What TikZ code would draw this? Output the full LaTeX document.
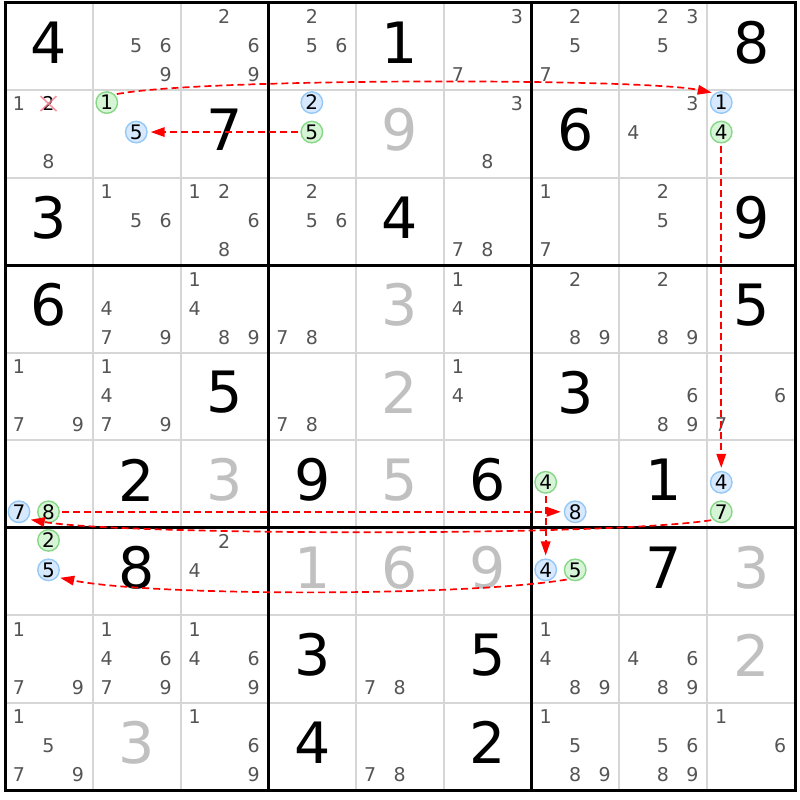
\documentclass[tikz,border=0pt]{standalone}
\usepackage{fontspec}
\setmainfont{DejaVu Sans}
\usetikzlibrary{arrows.meta}
\definecolor{candgray}{RGB}{85,85,85}
\definecolor{solvgray}{RGB}{192,192,192}
\definecolor{thingray}{RGB}{214,214,214}
\definecolor{bfill}{RGB}{214,233,255}
\definecolor{bline}{RGB}{150,200,245}
\definecolor{gfill}{RGB}{214,245,214}
\definecolor{gline}{RGB}{135,215,135}
\definecolor{xred}{RGB}{245,130,145}
\definecolor{linkred}{RGB}{255,0,0}
\tikzset{
  given/.style={font=\fontsize{57}{60}\selectfont, text=black, inner sep=0pt},
  solved/.style={given, text=solvgray},
  cand/.style={font=\fontsize{19}{22}\selectfont, text=candgray, inner sep=0pt},
  bc/.style={circle, draw=bline, fill=bfill, line width=1.4pt, minimum size=21.5pt, inner sep=0pt, font=\fontsize{20}{22}\selectfont, text=black},
  gc/.style={bc, draw=gline, fill=gfill},
  gridthin/.style={draw=thingray, line width=2pt},
  gridthick/.style={draw=black, line width=3pt},
  link/.style={draw=linkred, line width=1.7pt, dash pattern=on 7pt off 4pt, -{Triangle[length=14pt,width=9.5pt]}, shorten >=3pt, shorten <=2pt}
}
\begin{document}
\begin{tikzpicture}[x=1pt,y=-1pt]
\useasboundingbox (0,0) rectangle (800,800);
\fill[white] (0,0) rectangle (800,800);
% thin grid
\foreach \i in {1,2,4,5,7,8} {
  \draw[gridthin] ({5+87.78*\i},2.5) -- ({5+87.78*\i},790.5);
  \draw[gridthin] (5,{2.5+87.56*\i}) -- (795,{2.5+87.56*\i});
}
% thick grid
\foreach \i in {3,6} {
  \draw[gridthick] ({5+87.78*\i},2.5) -- ({5+87.78*\i},790.5);
  \draw[gridthick] (5,{2.5+87.56*\i}) -- (795,{2.5+87.56*\i});
}
\draw[gridthick] (5,2.5) rectangle (795,790.5);
% givens
\foreach \r/\c/\d in {1/1/4,1/5/1,1/9/8,2/3/7,2/7/6,3/1/3,3/5/4,3/9/9,4/1/6,4/9/5,5/3/5,5/7/3,6/2/2,6/4/9,6/6/6,6/8/1,7/2/8,7/8/7,8/4/3,8/6/5,9/4/4,9/6/2} {
  \node[given] (g\r\c) at ({5+87.78*(\c-0.5)},{2.5+87.56*(\r-0.5)-4}) {\d};
}
% solved (gray)
\foreach \r/\c/\d in {2/5/9,4/5/3,5/5/2,6/3/3,6/5/5,7/4/1,7/5/6,7/6/9,7/9/3,8/9/2,9/2/3} {
  \node[solved] (s\r\c) at ({5+87.78*(\c-0.5)},{2.5+87.56*(\r-0.5)-4}) {\d};
}
% candidates
\foreach \r/\c/\ds in {1/2/{5,6,9},1/3/{2,6,9},1/4/{2,5,6},1/6/{3,7},1/7/{2,5,7},1/8/{2,3,5},
  2/1/{1,8},2/6/{3,8},2/8/{3,4},
  3/2/{1,5,6},3/3/{1,2,6,8},3/4/{2,5,6},3/6/{7,8},3/7/{1,7},3/8/{2,5},
  4/2/{4,7,9},4/3/{1,4,8,9},4/4/{7,8},4/6/{1,4},4/7/{2,8,9},4/8/{2,8,9},
  5/1/{1,7,9},5/2/{1,4,7,9},5/4/{7,8},5/6/{1,4},5/8/{6,8,9},5/9/{6,7},
  7/3/{2,4},
  8/1/{1,7,9},8/2/{1,4,6,7,9},8/3/{1,4,6,9},8/5/{7,8},8/7/{1,4,8,9},8/8/{4,6,8,9},
  9/1/{1,5,7,9},9/3/{1,6,9},9/5/{7,8},9/7/{1,5,8,9},9/8/{5,6,8,9},9/9/{1,6}} {
  \foreach \d in \ds {
    \pgfmathsetmacro\px{5+87.78*(\c-1)+14+29.5*mod(\d-1,3)}
    \pgfmathsetmacro\py{2.5+87.56*(\r-1)+14+29*int((\d-1)/3)}
    \node[cand] (k\r\c\d) at (\px,\py) {\d};
  }
}
% crossed-out candidate
\node[cand, text=black] (x212) at ({5+14+29.5},{2.5+87.56+13.5}) {2};
\draw[xred, line width=1.6pt, opacity=0.85] (x212.center) ++(-8,-7.5) -- ++(16,15);
\draw[xred, line width=1.6pt, opacity=0.85] (x212.center) ++(8,-7.5) -- ++(-16,15);
% circled candidates
\foreach \r/\c/\d/\s in {2/2/1/gc,2/2/5/bc,2/4/2/bc,2/4/5/gc,2/9/1/bc,2/9/4/gc,
  6/1/7/bc,6/1/8/gc,6/7/4/gc,6/7/8/bc,6/9/4/bc,6/9/7/gc,
  7/1/2/gc,7/1/5/bc,7/7/4/bc,7/7/5/gc} {
  \pgfmathsetmacro\px{5+87.78*(\c-1)+14+29.5*mod(\d-1,3)}
  \pgfmathsetmacro\py{2.5+87.56*(\r-1)+12.5+29.5*int((\d-1)/3)}
  \node[\s] (m\r\c\d) at (\px,\py) {\d};
}
% links
\draw[link] (m221.45) .. controls (200,78) and (640,78) .. (m291.125);
\draw[link] (m245) -- (m225);
\draw[link] (m294) -- (m694);
\draw[link] (m697.225) .. controls (600,537) and (120,535) .. (m617.-40);
\draw[link] (m618) -- (m678);
\draw[link] (m674) -- (m774);
\draw[link] (m775.235) .. controls (460,597) and (150,596) .. (m715.-40);
\end{tikzpicture}
\end{document}
